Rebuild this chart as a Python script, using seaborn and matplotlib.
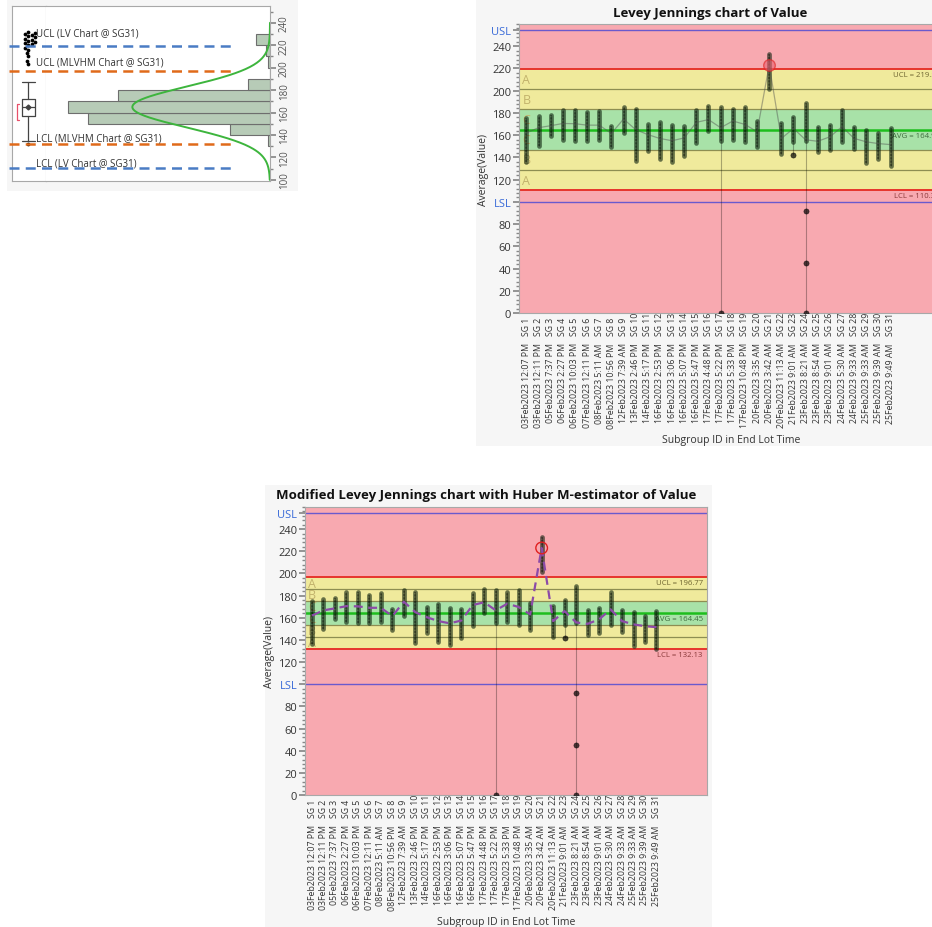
import numpy as np
import matplotlib
matplotlib.use("Agg")
import matplotlib.pyplot as plt
import matplotlib.transforms as mtransforms
from matplotlib.patches import Rectangle
from matplotlib.ticker import MultipleLocator
import seaborn as sns

sns.set_theme(style="white")
plt.rcParams["font.family"] = ["Open Sans", "DejaVu Sans"]

# ---------------- data ----------------
sg_labels = [f"SG {i}" for i in range(1, 32)]
end_times = [
    "03Feb2023 12:07 PM", "03Feb2023 12:11 PM", "05Feb2023 7:37 PM", "06Feb2023 2:27 PM",
    "06Feb2023 10:03 PM", "07Feb2023 12:11 PM", "08Feb2023 5:11 AM", "08Feb2023 10:56 PM",
    "12Feb2023 7:39 AM", "13Feb2023 2:46 PM", "14Feb2023 5:17 PM", "16Feb2023 2:53 PM",
    "16Feb2023 3:06 PM", "16Feb2023 5:07 PM", "16Feb2023 5:47 PM", "17Feb2023 4:48 PM",
    "17Feb2023 5:22 PM", "17Feb2023 5:33 PM", "17Feb2023 10:48 PM", "20Feb2023 3:35 AM",
    "20Feb2023 3:42 AM", "20Feb2023 11:13 AM", "21Feb2023 9:01 AM", "23Feb2023 8:21 AM",
    "23Feb2023 8:54 AM", "23Feb2023 9:01 AM", "24Feb2023 5:30 AM", "24Feb2023 9:33 AM",
    "25Feb2023 9:33 AM", "25Feb2023 9:39 AM", "25Feb2023 9:49 AM",
]
# upper / lower end of the bulk of values in each subgroup
sg_high = [175, 177, 178, 183, 183, 181, 182, 168, 185.5, 183.5, 170, 172, 169, 168, 182.5,
           186, 185.5, 183.5, 185, 173, 233, 171, 176, 189, 167, 169, 183, 167, 165, 162, 166]
sg_low = [136, 150, 159, 156, 155, 155, 156, 149, 162, 137, 146, 138.5, 135.5, 141.5, 153,
          164, 155, 156, 153.5, 149, 201.5, 143, 153.5, 155, 144.5, 146.5, 153.5, 147.5, 134.5,
          138.5, 132]
# subgroup averages
sg_mean = [162, 166.7, 168.5, 170.5, 170.3, 169, 169, 161.5, 174.5, 165, 160.5, 157, 155,
           157.5, 171.5, 174, 166.7, 172.7, 169.7, 163, 223, 157, 166, 155.8, 154.5, 158.5,
           167.6, 157, 154, 152.4, 151.5]
# isolated observations away from the bulk of their subgroup
extra_sg = [17, 23, 24, 24, 24]
extra_val = [0, 142, 92, 45, 0]

# limits
usl, lsl = 255, 100
lv_avg, lv_ucl, lv_lcl = 164.95, 219.55, 110.35
hub_avg, hub_ucl, hub_lcl = 164.45, 196.77, 132.13

# distribution of all values
bin_lo = [130, 140, 150, 160, 170, 180, 190, 200, 210, 220]
bin_count = [1, 20, 91, 101, 76, 11, 0, 1, 2, 7]
n_total = 314
box_q1, box_med, box_q3 = 156.7, 164.7, 171.8
box_whislo, box_whishi = 134.5, 187.0
box_outliers = [131.9, 203, 206, 210, 213, 216, 218, 220, 221, 222, 223, 224, 225, 226, 227,
                228, 229, 230, 231, 232]
shortest_half = (153.5, 168.0)

# ---------------- colours ----------------
PINK, YELLOW, GREEN = "#F8A9B0", "#F0EA9C", "#A8E2A8"
ZONE_LINE, LIMIT_RED, AVG_GREEN, SPEC = "#8E8E52", "#E6352C", "#1DBE1D", "#6A5ACD"
TXT = "#333333"

W, H = 932, 928
fig = plt.figure(figsize=(W / 100, H / 100), dpi=100)


def rect(x0, y0, x1, y1):
    return [x0 / W, 1 - y1 / H, (x1 - x0) / W, (y1 - y0) / H]


# light panel backgrounds behind each report
for (x0, y0, x1, y1) in [(7, 0, 298, 192), (476, 0, 945, 447), (265, 486, 712, 935)]:
    l, b, w, h = rect(x0, y0, x1, y1)
    fig.patches.append(Rectangle((l, b), w, h, transform=fig.transFigure, fc="#F6F6F6",
                                 ec="none", zorder=-5))

x = np.arange(1, 32)
sg_min_all = [min([lo] + [v for s, v in zip(extra_sg, extra_val) if s == i + 1])
              for i, lo in enumerate(sg_low)]


def control_chart(ax, avg, ucl, lcl, dashed, filled_flag):
    sigma = (ucl - lcl) / 6
    ax.set_xlim(0.39, 35.4)
    ax.set_ylim(0, 260)
    ax.set_facecolor("none")
    ax.axhspan(ucl, 260, color=PINK, zorder=0, lw=0)
    ax.axhspan(0, lcl, color=PINK, zorder=0, lw=0)
    ax.axhspan(avg + sigma, ucl, color=YELLOW, zorder=0, lw=0)
    ax.axhspan(lcl, avg - sigma, color=YELLOW, zorder=0, lw=0)
    ax.axhspan(avg - sigma, avg + sigma, color=GREEN, zorder=0, lw=0)
    for k in (-2, -1, 1, 2):
        ax.axhline(avg + k * sigma, color=ZONE_LINE, lw=0.9, zorder=1)
    ax.axhline(ucl, color=LIMIT_RED, lw=1.4, zorder=1)
    ax.axhline(lcl, color=LIMIT_RED, lw=1.4, zorder=1)
    ax.axhline(avg, color=AVG_GREEN, lw=1.8, zorder=1)
    ax.axhline(usl, color=SPEC, lw=1.0, zorder=1)
    ax.axhline(lsl, color=SPEC, lw=1.0, zorder=1)

    trans = mtransforms.blended_transform_factory(ax.transAxes, ax.transData)
    for k, letter in [(2.5, "A"), (1.5, "B"), (0.5, "C"), (-0.5, "C"), (-1.5, "B"), (-2.5, "A")]:
        ax.text(0.008, avg + k * sigma, letter, transform=trans, va="center", ha="left",
                fontsize=9, color="#C2B26C", zorder=1.5)
    for name, val, col in [("UCL", ucl, "#6E6430"), ("AVG", avg, "#3E6A3E"), ("LCL", lcl, "#8A3A3A")]:
        ax.annotate(f"{name} = {val:.2f}", xy=(1, val), xycoords=trans, xytext=(-3, -1.5),
                    textcoords="offset points", ha="right", va="top", fontsize=5.6, color=col,
                    zorder=2)

    # subgroup spread
    ax.vlines(x, sg_min_all, sg_high, color="black", alpha=0.3, lw=0.8, zorder=3)
    cols = ax.vlines(x, sg_low, sg_high, color="#0B1F0B", alpha=0.6, lw=3.4, zorder=4)
    cols.set_capstyle("round")
    ax.vlines(x, sg_low, sg_high, color="black", alpha=0.35, lw=1.2, zorder=4,
              linestyles=(0, (1.2, 0.8)))
    sns.scatterplot(x=extra_sg, y=extra_val, ax=ax, color="black", alpha=0.7, s=14,
                    edgecolor="black", linewidth=0.4, zorder=5)

    # subgroup averages
    if dashed:
        sns.lineplot(x=x, y=sg_mean, ax=ax, color="#8C4BA8", lw=1.6, zorder=6,
                     dashes=False, linestyle=(0, (4, 2.5)))
    else:
        sns.lineplot(x=x, y=sg_mean, ax=ax, color="#505050", alpha=0.45, lw=0.9, zorder=6)
    flagged = [(xi, m) for xi, m in zip(x, sg_mean) if m > ucl or m < lcl]
    fx, fy = zip(*flagged)
    if filled_flag:
        sns.scatterplot(x=list(fx), y=list(fy), ax=ax, s=70, color="#E86070", alpha=0.6,
                        edgecolor="#E02020", linewidth=1.0, zorder=7)
    else:
        sns.scatterplot(x=list(fx), y=list(fy), ax=ax, s=70, facecolor="none",
                        edgecolor="#E02020", linewidth=1.0, zorder=7)

    # axes
    for sp in ax.spines.values():
        sp.set_color("#A8A8A8")
        sp.set_linewidth(0.8)
    yt = [0, 20, 40, 60, 80, lsl, 120, 140, 160, 180, 200, 220, 240, usl]
    ylab = [str(t) for t in yt]
    ylab[yt.index(lsl)] = "LSL"
    ylab[yt.index(usl)] = "USL"
    ax.set_yticks(yt, ylab)
    ax.yaxis.set_minor_locator(MultipleLocator(4))
    ax.tick_params(axis="y", which="both", left=True, direction="out", color="#888888",
                   labelsize=8, labelcolor=TXT, pad=1.5)
    ax.tick_params(axis="y", which="major", length=4)
    ax.tick_params(axis="y", which="minor", length=2)
    for lab, t in zip(ax.get_yticklabels(), yt):
        if t in (lsl, usl):
            lab.set_color("#3A6BD8")
    ax.set_xticks(x, end_times, rotation=90, fontsize=6.3, color=TXT)
    ax.tick_params(axis="x", length=0, pad=21)
    xtrans = mtransforms.blended_transform_factory(ax.transData, ax.transAxes)
    for xi, lab in zip(x, sg_labels):
        ax.annotate(lab, xy=(xi, 0), xycoords=xtrans, xytext=(0, -16),
                    textcoords="offset points", rotation=90, ha="center", va="bottom",
                    fontsize=6.3, color=TXT)
    ax.set_xlabel("Subgroup ID in End Lot Time", fontsize=7.5, color=TXT, labelpad=5)
    ax.set_ylabel("Average(Value)", fontsize=7.5, color=TXT, labelpad=2)


# ---------- Levey Jennings chart ----------
ax_lv = fig.add_axes(rect(519, 25, 944, 314))
control_chart(ax_lv, lv_avg, lv_ucl, lv_lcl, dashed=False, filled_flag=True)
fig.text(710 / W, 1 - 13 / H, "Levey Jennings chart of Value", ha="center", va="center",
         fontsize=9.5, fontweight="bold", color="#111111")

# ---------- Modified Levey Jennings chart ----------
ax_hb = fig.add_axes(rect(305, 508, 707, 796))
control_chart(ax_hb, hub_avg, hub_ucl, hub_lcl, dashed=True, filled_flag=False)
fig.text(486 / W, 1 - 496 / H, "Modified Levey Jennings chart with Huber M-estimator of Value",
         ha="center", va="center", fontsize=9.5, fontweight="bold", color="#111111")

# ---------- distribution panel ----------
ax_box = fig.add_axes(rect(12, 7, 46, 182))
ax_hist = fig.add_axes(rect(46, 7, 270, 182))
for a in (ax_box, ax_hist):
    a.set_ylim(99, 255)
    a.set_facecolor("white")
    for sp in a.spines.values():
        sp.set_color("#A8A8A8")
        sp.set_linewidth(0.8)
ax_hist.spines["left"].set_visible(False)

stats = [dict(med=box_med, q1=box_q1, q3=box_q3, whislo=box_whislo, whishi=box_whishi,
              mean=box_med, fliers=[])]
ax_box.bxp(stats, positions=[0], widths=0.38, capwidths=0.38, showfliers=False,
           showmeans=True, patch_artist=False,
           boxprops=dict(color="#444444", lw=0.9), whiskerprops=dict(color="#444444", lw=0.9),
           capprops=dict(color="#444444", lw=0.9), medianprops=dict(color="#444444", lw=0.9),
           meanprops=dict(marker="D", markersize=2.5, markerfacecolor="#444444",
                          markeredgecolor="#444444"))
sns.swarmplot(y=box_outliers, ax=ax_box, color="black", size=2.7)
ax_box.plot([-0.29, -0.34, -0.34, -0.29],
            [shortest_half[0], shortest_half[0], shortest_half[1], shortest_half[1]],
            color="#E8506A", lw=0.9)
ax_box.set_xlim(-0.485, 0.515)
ax_box.set_ylim(99, 255)
ax_box.set_xticks([])
ax_box.set_yticks([])
ax_box.set_xlabel("")
ax_box.set_ylabel("")

ax_hist.barh(bin_lo, bin_count, height=10, align="edge", color="#B7CBB7",
             edgecolor="#6E6E6E", lw=0.8, zorder=2)
sigma_fit = (lv_ucl - lv_avg) / 3
yy = np.linspace(100, 240, 300)
dens = n_total * 10 / (sigma_fit * np.sqrt(2 * np.pi)) * np.exp(-0.5 * ((yy - lv_avg) / sigma_fit) ** 2)
sns.lineplot(x=dens, y=yy, ax=ax_hist, color="#3DB53D", lw=1.4, sort=False, orient="y", zorder=3)
ax_hist.set_xlim(112, 0)
ax_hist.set_ylim(99, 255)
ax_hist.set_xticks([])
ax_hist.yaxis.tick_right()
ax_hist.set_yticks(range(100, 241, 20))
ax_hist.yaxis.set_minor_locator(MultipleLocator(10))
ax_hist.tick_params(axis="y", which="both", right=True, left=False, color="#888888",
                    labelrotation=90, labelsize=7, labelcolor="#555555", pad=2.5)
ax_hist.tick_params(axis="y", which="major", length=4)
ax_hist.tick_params(axis="y", which="minor", length=2)
for lab in ax_hist.get_yticklabels():
    lab.set_va("center")
ax_hist.set_xlabel("")
ax_hist.set_ylabel("")

htrans = mtransforms.blended_transform_factory(ax_hist.transAxes, ax_hist.transData)
ref_lines = [("UCL (LV Chart @ SG31)", lv_ucl, "#4A7CC4", 9),
             ("UCL (MLVHM Chart @ SG31)", hub_ucl, "#E06A1A", 6.5),
             ("LCL (MLVHM Chart @ SG31)", hub_lcl, "#E06A1A", 4),
             ("LCL (LV Chart @ SG31)", lv_lcl, "#4A7CC4", 4)]
for label, val, col, off in ref_lines:
    ax_hist.plot([-0.165, 0.84], [val, val], transform=htrans, color=col, lw=1.8,
                 dashes=(4, 2.5), clip_on=False, zorder=6)
    ax_hist.annotate(label, xy=(-0.045, val), xycoords=htrans, xytext=(0, off),
                     textcoords="offset points", ha="left", va="center", fontsize=7,
                     color=TXT, annotation_clip=False, zorder=7)

fig.savefig("out.png", dpi=100)
